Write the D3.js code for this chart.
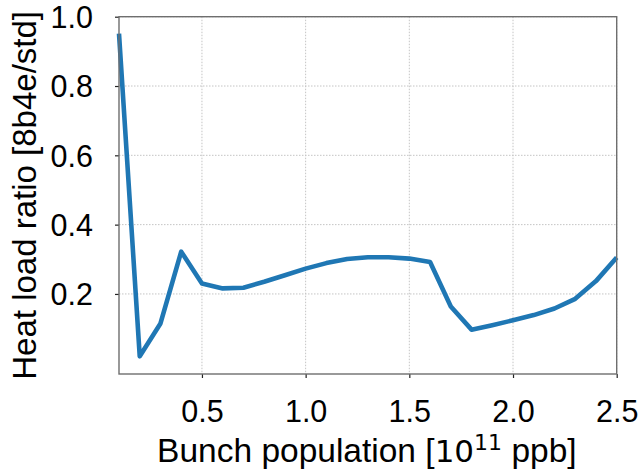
<!DOCTYPE html>
<html>
<head>
<meta charset="utf-8">
<script src="https://cdn.jsdelivr.net/npm/d3@7"></script>
<style>
  html, body { margin: 0; padding: 0; background: #fff; }
  svg { display: block; font-family: "Liberation Sans", Arial, sans-serif; }
</style>
</head>
<body>
<svg id="chart" width="641" height="475"></svg>
<script>
// Bunch population (1e11 ppb) and heat load ratio 8b4e / standard
const population = [0.1, 0.2, 0.3, 0.4, 0.5, 0.6, 0.7, 0.8, 0.9, 1.0, 1.1, 1.2, 1.3,
                    1.4, 1.5, 1.6, 1.7, 1.8, 1.9, 2.0, 2.1, 2.2, 2.3, 2.4, 2.5];
const heatRatio = [0.951, 0.020, 0.115, 0.322, 0.230, 0.216, 0.218, 0.235, 0.254, 0.273,
                   0.289, 0.301, 0.306, 0.306, 0.302, 0.292, 0.164, 0.097, 0.110, 0.124,
                   0.139, 0.158, 0.186, 0.237, 0.305];
const xTicks = [0.5, 1.0, 1.5, 2.0, 2.5];
const yTicks = [0.2, 0.4, 0.6, 0.8, 1.0];

const margin = { left: 119, right: 641 - 616.7, top: 16.7, bottom: 475 - 374 };
const W = 641, H = 475;
const svg = d3.select("#chart");

const x = d3.scaleLinear().domain([0.1, 2.5]).range([margin.left, W - margin.right]);
const y = d3.scaleLinear().domain([-0.031, 1.0]).range([H - margin.bottom, margin.top]);

// dotted grid
const grid = svg.append("g");
grid.selectAll(".gx").data(xTicks).join("line")
  .attr("x1", d => x(d)).attr("x2", d => x(d))
  .attr("y1", y.range()[1]).attr("y2", y.range()[0])
  .attr("stroke", "#c4c4c4").attr("stroke-width", 1).attr("stroke-dasharray", "1.5,1.5");
grid.selectAll(".gy").data(yTicks).join("line")
  .attr("y1", d => y(d)).attr("y2", d => y(d))
  .attr("x1", x.range()[0]).attr("x2", x.range()[1])
  .attr("stroke", "#c4c4c4").attr("stroke-width", 1).attr("stroke-dasharray", "1.5,1.5");

// axes
const fmt = d3.format(".1f");
const xAxis = svg.append("g").attr("transform", `translate(0,${y.range()[0]})`)
  .call(d3.axisBottom(x).tickValues(xTicks).tickFormat(fmt).tickSize(4).tickPadding(22));
const yAxis = svg.append("g").attr("transform", `translate(${x.range()[0]},0)`)
  .call(d3.axisLeft(y).tickValues(yTicks).tickFormat(fmt).tickSize(4).tickPadding(22));
[xAxis, yAxis].forEach(g => {
  g.select(".domain").remove();
  g.selectAll(".tick line").attr("stroke", "#222").attr("stroke-width", 1.2);
  g.selectAll(".tick text").attr("fill", "#000").attr("font-size", 30.5)
    .attr("font-family", "Liberation Sans, Arial, sans-serif");
});
xAxis.selectAll(".tick text").attr("dy", "0.71em");
yAxis.selectAll(".tick text").attr("dy", "0.36em");

// the curve
const line = d3.line().x((d, i) => x(population[i])).y(d => y(d));
svg.append("path").datum(heatRatio)
  .attr("d", line)
  .attr("fill", "none")
  .attr("stroke", "#1f77b4")
  .attr("stroke-width", 4.6)
  .attr("stroke-linejoin", "round")
  .attr("stroke-linecap", "butt");

// frame
svg.append("rect")
  .attr("x", x.range()[0]).attr("y", y.range()[1])
  .attr("width", x.range()[1] - x.range()[0]).attr("height", y.range()[0] - y.range()[1])
  .attr("fill", "none").attr("stroke", "#6e6e6e").attr("stroke-width", 1.4);

// axis titles
const xl = svg.append("text")
  .attr("x", (x.range()[0] + x.range()[1]) / 2 - 1).attr("y", 462)
  .attr("text-anchor", "middle").attr("font-size", 33.5).attr("fill", "#000");
xl.append("tspan").text("Bunch population [");
xl.append("tspan").text("10").attr("font-family", "DejaVu Sans").attr("font-size", 31);
xl.append("tspan").text("11").attr("font-family", "DejaVu Sans").attr("font-size", 22).attr("dy", -12);
xl.append("tspan").text(" ppb]").attr("dy", 12);

svg.append("text")
  .attr("transform", `translate(36,${(y.range()[0] + y.range()[1]) / 2}) rotate(-90)`)
  .attr("text-anchor", "middle").attr("font-size", 33).attr("fill", "#000")
  .text("Heat load ratio [8b4e/std]");
</script>
</body>
</html>
